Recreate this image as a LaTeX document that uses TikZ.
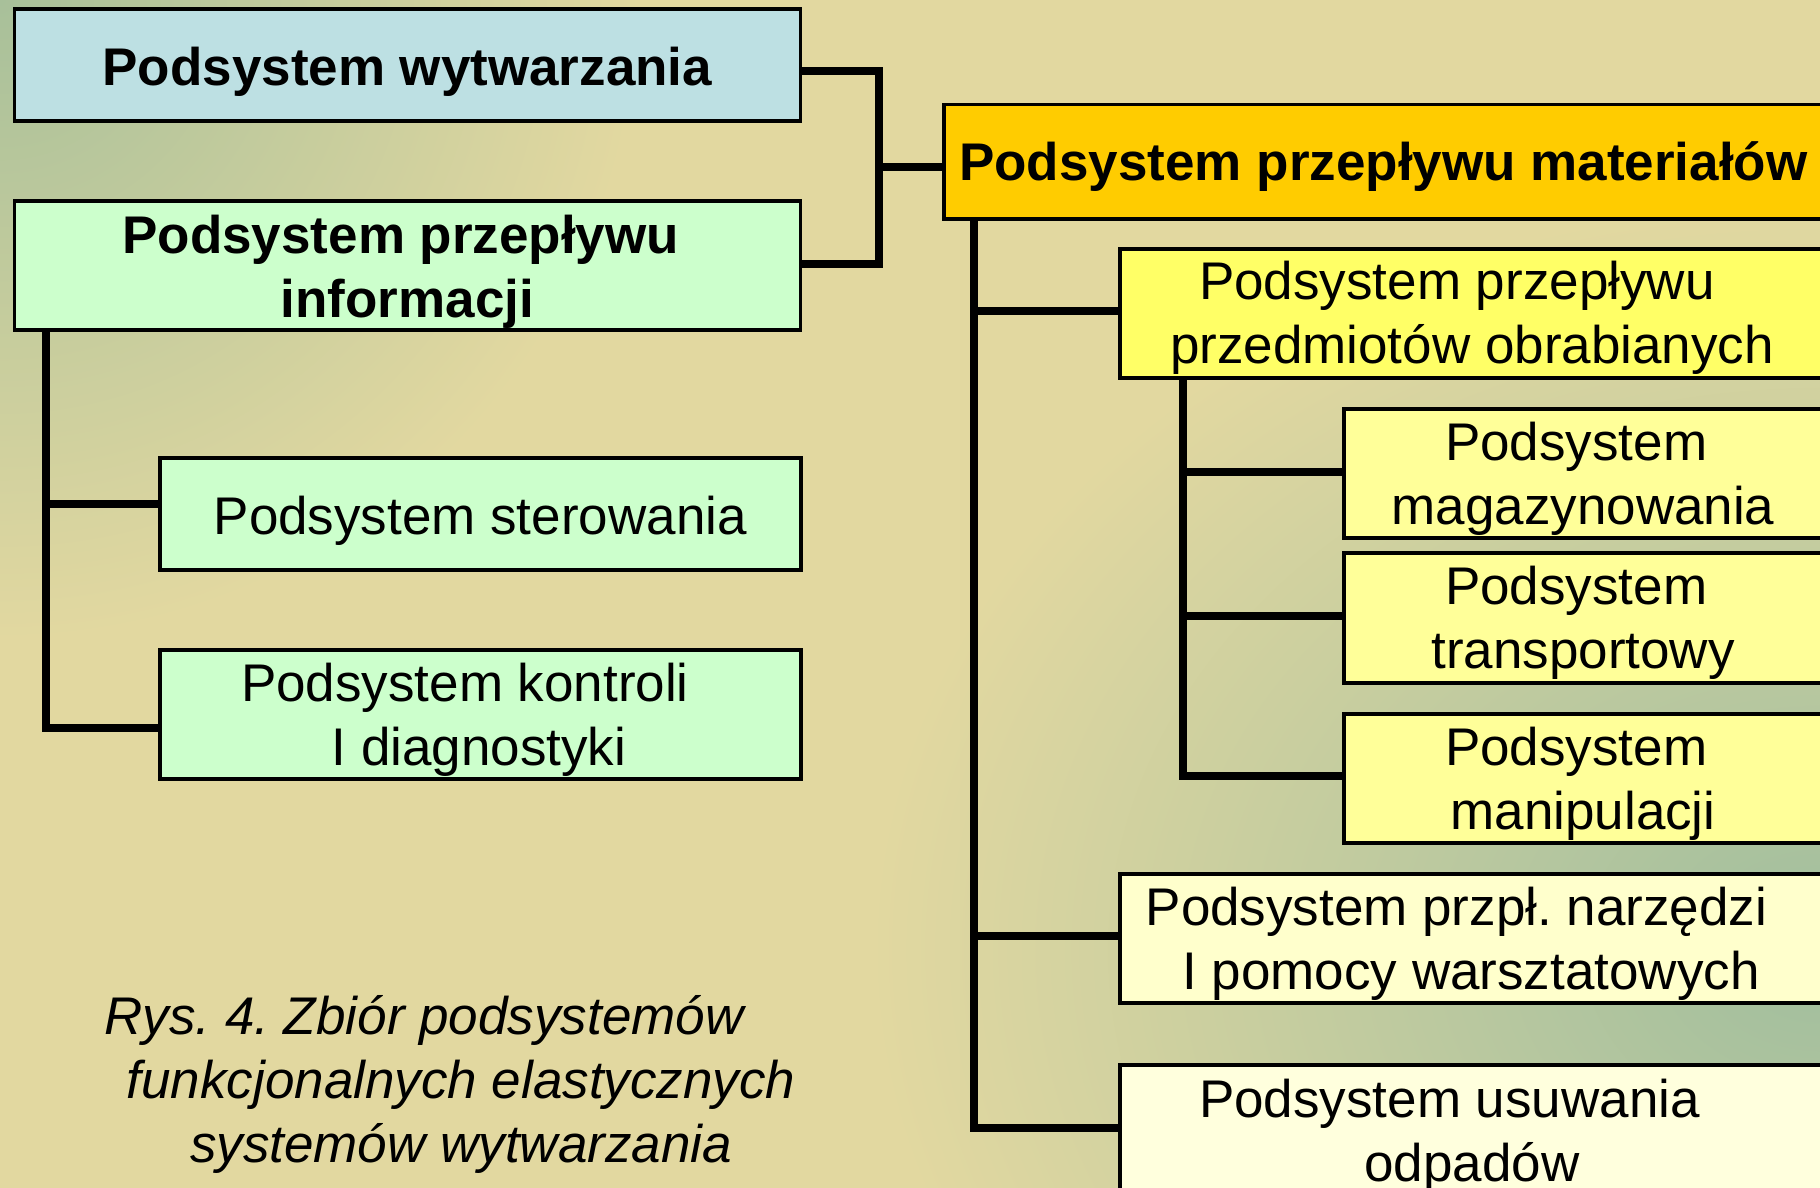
\documentclass[tikz,border=0pt]{standalone}
\usepackage{fontspec}
\setmainfont{Liberation Sans}
\frenchspacing
\definecolor{bgbase}{HTML}{E2D8A0}
\definecolor{bggreenA}{HTML}{A8C09A}
\definecolor{bggreenB}{HTML}{A0BE9E}
\definecolor{cWytw}{HTML}{BDE0E3}
\definecolor{cInfo}{HTML}{CCFFCC}
\definecolor{cMat}{HTML}{FFCC00}
\definecolor{cPrz}{HTML}{FFFF66}
\definecolor{cSub}{HTML}{FFFF99}
\definecolor{cNar}{HTML}{FFFFCC}
\definecolor{cUsu}{HTML}{FFFFDD}
\begin{document}
\frenchspacing
\begin{tikzpicture}[x=1pt,y=-1pt,
  box/.style={draw=black, line width=3.5pt, inner sep=0pt, anchor=north west},
  conn/.style={draw=black, line width=7.5pt},
  lbl/.style={font=\fontsize{53}{64}\selectfont, align=center, inner sep=0pt, text=black, yshift=-7pt},
  blbl/.style={lbl, font=\fontsize{53}{64}\selectfont\bfseries},
  ilbl/.style={lbl, font=\fontsize{53}{64}\selectfont\itshape}
]
\useasboundingbox (0,0) rectangle (1820,1188);
\clip (0,0) rectangle (1820,1188);
% background
\fill[bgbase] (0,0) rectangle (1820,1188);
\shade[inner color=bggreenA, outer color=bgbase] (0,0) circle [radius=640pt];
\shade[inner color=bggreenB, outer color=bgbase] (1820,950) ellipse [x radius=950pt, y radius=750pt];

% boxes
\node[box, fill=cWytw, minimum width=786pt, minimum height=112pt] (b1) at (12.6,7.3) {};
\node[box, fill=cInfo, minimum width=786pt, minimum height=129pt] (b2) at (12.6,199) {};
\node[box, fill=cInfo, minimum width=641pt, minimum height=112pt] (ster) at (158,456) {};
\node[box, fill=cInfo, minimum width=641pt, minimum height=129pt] (kon) at (158,648) {};
\node[box, fill=cMat, minimum width=900pt, minimum height=114pt] (b3) at (942,103) {};
\node[box, fill=cPrz, minimum width=720pt, minimum height=129pt] (prz) at (1118,247) {};
\node[box, fill=cSub, minimum width=500pt, minimum height=129pt] (mag) at (1342,407) {};
\node[box, fill=cSub, minimum width=500pt, minimum height=130pt] (tra) at (1342,551) {};
\node[box, fill=cSub, minimum width=500pt, minimum height=129pt] (man) at (1342,712) {};
\node[box, fill=cNar, minimum width=720pt, minimum height=129pt] (nar) at (1118,872) {};
\node[box, fill=cUsu, minimum width=720pt, minimum height=200pt] (usu) at (1118,1063) {};

% texts
\node[blbl] (b1t) at (b1.center) {Podsystem wytwarzania};
\node[blbl] (b2t) at (b2.center) {Podsystem przepływu\hspace*{0.25em}\\informacji};
\node[blbl, anchor=west] (b3t) at (959,160) {Podsystem przepływu materiałów};
\node[lbl] (stert) at (ster.center) {Podsystem sterowania};
\node[lbl] (kont) at (479,712.5) {Podsystem kontroli\hspace*{0.53em}\\I diagnostyki};
\node[lbl] (przt) at (1472,311) {Podsystem przepływu\hspace*{0.57em}\\przedmiotów obrabianych};
\node[lbl] (magt) at (1583,471.5) {Podsystem\hspace*{0.26em}\\magazynowania};
\node[lbl] (trat) at (1583,616) {Podsystem\hspace*{0.26em}\\transportowy};
\node[lbl] (mant) at (1583,776.5) {Podsystem\hspace*{0.26em}\\manipulacji};
\node[lbl] (nart) at (1471,936.5) {Podsystem przpł. narzędzi\hspace*{0.55em}\\I pomocy warsztatowych};
\node[lbl] (usut) at (1472,1129) {Podsystem usuwania\hspace*{0.85em}\\odpadów};
\node[ilbl] (cap) at (461,1077) {Rys. 4. Zbiór podsystemów\hspace*{1.4em}\\funkcjonalnych elastycznych\\systemów wytwarzania};

% connectors
\coordinate (jA) at (879,71);
\coordinate (jB) at (879,264);
\coordinate (jC) at (879,167);
\draw[conn] (b1.east |- jA) -- (jA) -- (jB) -- (b2.east |- jB);
\draw[conn] (jC) -- (b3.west |- jC);

\coordinate (iA) at (46,504);
\coordinate (iB) at (46,728);
\draw[conn] (b2.south -| iA) -- (iB) -- (kon.west |- iB);
\draw[conn] (iA) -- (ster.west |- iA);

\coordinate (mA) at (974,311);
\coordinate (mB) at (974,936);
\coordinate (mC) at (974,1128);
\draw[conn] (b3.south -| mA) -- (mC) -- (usu.west |- mC);
\draw[conn] (mA) -- (prz.west |- mA);
\draw[conn] (mB) -- (nar.west |- mB);

\coordinate (pA) at (1183,472);
\coordinate (pB) at (1183,616);
\coordinate (pC) at (1183,776);
\draw[conn] (prz.south -| pA) -- (pC) -- (man.west |- pC);
\draw[conn] (pA) -- (mag.west |- pA);
\draw[conn] (pB) -- (tra.west |- pB);
\end{tikzpicture}
\end{document}
